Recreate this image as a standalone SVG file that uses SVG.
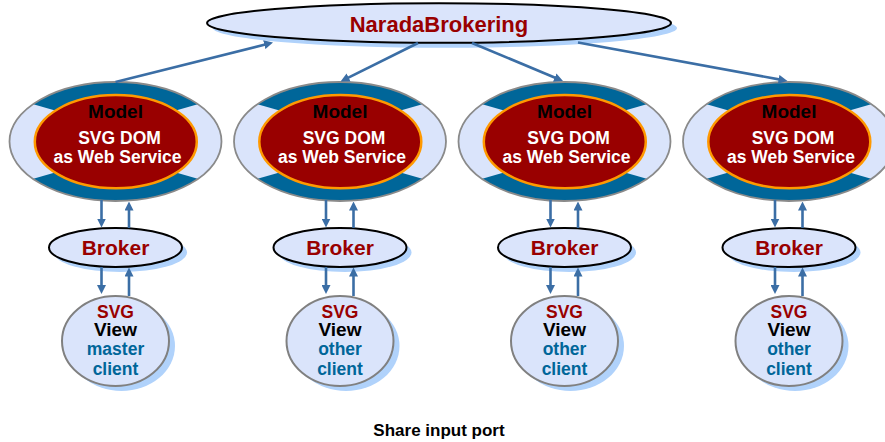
<svg xmlns="http://www.w3.org/2000/svg" xmlns:xlink="http://www.w3.org/1999/xlink" width="885" height="442" viewBox="0 0 885 442">
<style>
  text { font-family: "Liberation Sans", Arial, sans-serif; font-weight: bold; text-anchor: middle; }
  .shadow { fill: #b0d2fb; }
  .light { fill: #dae4fb; }
  .outer { fill: none; stroke: #8a8a8a; stroke-width: 1.8; }
  .band { fill: #006699; }
  .core { fill: #990000; stroke: #ff9900; stroke-width: 2.5; }
  .blk { fill: none; stroke: #000; stroke-width: 2; }
  .gray { stroke: #808080; stroke-width: 2; }
  .red { fill: #990000; }
  .white { fill: #ffffff; }
  .black { fill: #000000; }
  .blue { fill: #006699; }
  .conn { fill: none; stroke: #3b6ea5; stroke-width: 2.6; marker-end: url(#ah); }
</style>
<defs>
  <marker id="ah" viewBox="0 0 9 9" markerUnits="userSpaceOnUse" markerWidth="9" markerHeight="9" refX="3" refY="4.5" orient="auto">
    <path d="M0,0 L9,4.5 L0,9 z" fill="#3b6ea5"/>
  </marker>
  <clipPath id="outerClip">
    <ellipse cx="0" cy="0" rx="106" ry="59.5"/>
  </clipPath>
  <g id="modelShape">
    <ellipse class="band" cx="0" cy="0" rx="106" ry="59.5"/>
    <g clip-path="url(#outerClip)">
      <polygon class="light" points="-120,-48 -50,-28 -50,28 -120,48"/>
      <polygon class="light" points="120,-48 50,-28 50,28 120,48"/>
    </g>
    <ellipse class="outer" cx="0" cy="0" rx="106" ry="59.5"/>
    <ellipse class="core" cx="0.3" cy="0.2" rx="81" ry="46.6"/>
  </g>
  <g id="brokerShape">
    <ellipse class="shadow" cx="5" cy="5" rx="66.5" ry="19.5"/>
    <ellipse class="light" cx="0" cy="0" rx="66.5" ry="19.5"/>
    <ellipse class="blk" cx="0" cy="0" rx="66.5" ry="19.5"/>
  </g>
  <g id="viewShape">
    <ellipse class="shadow" cx="6" cy="5" rx="53.5" ry="45"/>
    <ellipse class="light gray" cx="0" cy="0" rx="53.5" ry="45"/>
  </g>
</defs>

<g id="narada">
  <ellipse class="shadow" cx="445" cy="28" rx="232" ry="19.8"/>
  <ellipse class="light" cx="439" cy="23" rx="232" ry="19.8"/>
  <ellipse class="blk" cx="439" cy="23" rx="232" ry="19.8"/>
  <text class="red" x="439" y="32" font-size="22">NaradaBrokering</text>
</g>

<g id="model1" transform="translate(115.5,141.5)">
  <use xlink:href="#modelShape"/>
  <text class="black" x="0" y="-24" font-size="19">Model</text>
  <text class="white" x="4" y="2" font-size="17.5">SVG DOM</text>
  <text class="white" x="2" y="21" font-size="17.5">as Web Service</text>
</g>
<g id="model2" transform="translate(340,141.5)">
  <use xlink:href="#modelShape"/>
  <text class="black" x="0" y="-24" font-size="19">Model</text>
  <text class="white" x="4" y="2" font-size="17.5">SVG DOM</text>
  <text class="white" x="2" y="21" font-size="17.5">as Web Service</text>
</g>
<g id="model3" transform="translate(564.5,141.5)">
  <use xlink:href="#modelShape"/>
  <text class="black" x="0" y="-24" font-size="19">Model</text>
  <text class="white" x="4" y="2" font-size="17.5">SVG DOM</text>
  <text class="white" x="2" y="21" font-size="17.5">as Web Service</text>
</g>
<g id="model4" transform="translate(789,141.5)">
  <use xlink:href="#modelShape"/>
  <text class="black" x="0" y="-24" font-size="19">Model</text>
  <text class="white" x="4" y="2" font-size="17.5">SVG DOM</text>
  <text class="white" x="2" y="21" font-size="17.5">as Web Service</text>
</g>

<g id="broker1" transform="translate(115.5,247.5)">
  <use xlink:href="#brokerShape"/>
  <text class="red" x="0" y="7.5" font-size="21">Broker</text>
</g>
<g id="broker2" transform="translate(340,247.5)">
  <use xlink:href="#brokerShape"/>
  <text class="red" x="0" y="7.5" font-size="21">Broker</text>
</g>
<g id="broker3" transform="translate(564.5,247.5)">
  <use xlink:href="#brokerShape"/>
  <text class="red" x="0" y="7.5" font-size="21">Broker</text>
</g>
<g id="broker4" transform="translate(789,247.5)">
  <use xlink:href="#brokerShape"/>
  <text class="red" x="0" y="7.5" font-size="21">Broker</text>
</g>

<g id="view1" transform="translate(115.5,341)">
  <use xlink:href="#viewShape"/>
  <text class="red" x="0" y="-23" font-size="17.5">SVG</text>
  <text class="black" x="0" y="-5.5" font-size="19">View</text>
  <text class="blue" x="0" y="14" font-size="17.5">master</text>
  <text class="blue" x="0" y="33.5" font-size="17.5">client</text>
</g>
<g id="view2" transform="translate(340,341)">
  <use xlink:href="#viewShape"/>
  <text class="red" x="0" y="-23" font-size="17.5">SVG</text>
  <text class="black" x="0" y="-5.5" font-size="19">View</text>
  <text class="blue" x="0" y="14" font-size="17.5">other</text>
  <text class="blue" x="0" y="33.5" font-size="17.5">client</text>
</g>
<g id="view3" transform="translate(564.5,341)">
  <use xlink:href="#viewShape"/>
  <text class="red" x="0" y="-23" font-size="17.5">SVG</text>
  <text class="black" x="0" y="-5.5" font-size="19">View</text>
  <text class="blue" x="0" y="14" font-size="17.5">other</text>
  <text class="blue" x="0" y="33.5" font-size="17.5">client</text>
</g>
<g id="view4" transform="translate(789,341)">
  <use xlink:href="#viewShape"/>
  <text class="red" x="0" y="-23" font-size="17.5">SVG</text>
  <text class="black" x="0" y="-5.5" font-size="19">View</text>
  <text class="blue" x="0" y="14" font-size="17.5">other</text>
  <text class="blue" x="0" y="33.5" font-size="17.5">client</text>
</g>

<g id="connectors">
  <path class="conn" d="M115.5,82 L267.2,44"/>
  <path class="conn" d="M418,43 L345.9,78.8"/>
  <path class="conn" d="M472,43 L557.5,78.7"/>
  <path class="conn" d="M578,42.5 L781.6,79.9"/>

  <path class="conn" d="M101.5,200 L101.5,221.5"/>
  <path class="conn" d="M129,228 L129,207.5"/>
  <path class="conn" d="M101.5,267 L101.5,288"/>
  <path class="conn" d="M129,296 L129,273.5"/>

  <path class="conn" d="M326,200 L326,221.5"/>
  <path class="conn" d="M353.5,228 L353.5,207.5"/>
  <path class="conn" d="M326,267 L326,288"/>
  <path class="conn" d="M353.5,296 L353.5,273.5"/>

  <path class="conn" d="M550.5,200 L550.5,221.5"/>
  <path class="conn" d="M578,228 L578,207.5"/>
  <path class="conn" d="M550.5,267 L550.5,288"/>
  <path class="conn" d="M578,296 L578,273.5"/>

  <path class="conn" d="M775,200 L775,221.5"/>
  <path class="conn" d="M802.5,228 L802.5,207.5"/>
  <path class="conn" d="M775,267 L775,288"/>
  <path class="conn" d="M802.5,296 L802.5,273.5"/>
</g>

<text class="black" x="439" y="436" font-size="17">Share input port</text>
</svg>
